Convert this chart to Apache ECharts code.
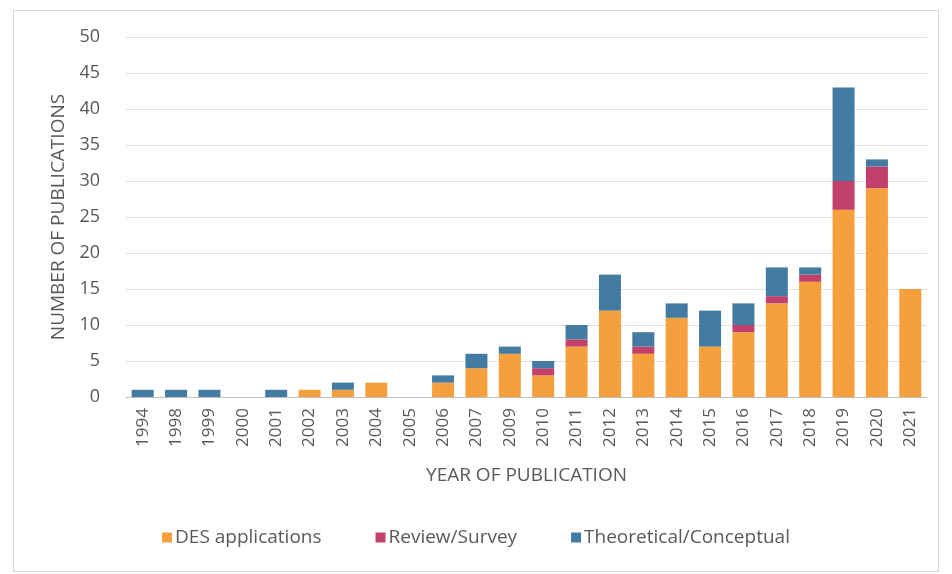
<!DOCTYPE html>
<html lang="en">
  <head>
    <meta charset="utf-8" />
    <title>Publications per year</title>
    <script src="https://cdn.jsdelivr.net/npm/echarts@6/dist/echarts.min.js"></script>
    <style>
      body { margin: 0; background: #fff; }
      #frame {
        position: absolute; left: 13px; top: 10px; width: 926px; height: 562px;
        border: 1px solid #d9d9d9; box-sizing: border-box; pointer-events: none;
      }
    </style>
  </head>
  <body>
    <div id="main" style="width: 952px; height: 574px;"></div>
    <div id="frame"></div>
    <script type="text/javascript">
      const years = ['1994', '1998', '1999', '2000', '2001', '2002', '2003', '2004', '2005', '2006',
        '2007', '2009', '2010', '2011', '2012', '2013', '2014', '2015', '2016', '2017',
        '2018', '2019', '2020', '2021'];
      const desApplications = [0, 0, 0, 0, 0, 1, 1, 2, 0, 2, 4, 6, 3, 7, 12, 6, 11, 7, 9, 13, 16, 26, 29, 15];
      const reviewSurvey    = [0, 0, 0, 0, 0, 0, 0, 0, 0, 0, 0, 0, 1, 1, 0, 1, 0, 0, 1, 1, 1, 4, 3, 0];
      const theoretical     = [1, 1, 1, 0, 1, 0, 1, 0, 0, 1, 2, 1, 1, 2, 5, 2, 2, 5, 3, 4, 1, 13, 1, 0];

      const myChart = echarts.init(document.getElementById('main'));
      const font = '"Open Sans", "Noto Sans", sans-serif';
      const grey = '#595959';

      const bar = (name, data, color) => ({
        name: name,
        type: 'bar',
        stack: 'total',
        data: data,
        barWidth: 22,
        itemStyle: { color: color },
        emphasis: { disabled: true }
      });

      const option = {
        animation: false,
        textStyle: { fontFamily: font },
        grid: { left: 126, right: 25, top: 37, bottom: 177 },
        legend: {
          bottom: 22,
          left: 'center',
          itemWidth: 10,
          itemHeight: 10,
          itemGap: 54,
          icon: 'rect',
          textStyle: { color: grey, fontSize: 19, fontFamily: font, padding: [0, 0, 0, -2] }
        },
        xAxis: {
          type: 'category',
          data: years,
          name: 'YEAR OF PUBLICATION',
          nameLocation: 'middle',
          nameGap: 69,
          nameTextStyle: { color: grey, fontSize: 19 },
          axisLine: { lineStyle: { color: '#bfbfbf' } },
          axisTick: { show: false },
          axisLabel: { rotate: 90, color: grey, fontSize: 17, margin: 11, interval: 0 }
        },
        yAxis: {
          type: 'value',
          min: 0,
          max: 50,
          interval: 5,
          name: 'NUMBER OF PUBLICATIONS',
          nameLocation: 'middle',
          nameGap: 56,
          nameTextStyle: { color: grey, fontSize: 19 },
          axisLine: { show: false },
          axisTick: { show: false },
          axisLabel: { color: grey, fontSize: 18, margin: 26 },
          splitLine: { lineStyle: { color: '#e0e0e0' } }
        },
        series: [
          bar('DES applications', desApplications, '#f5a03c'),
          bar('Review/Survey', reviewSurvey, '#c2416a'),
          bar('Theoretical/Conceptual', theoretical, '#437ba3')
        ]
      };
      myChart.setOption(option);
    </script>
  </body>
</html>
